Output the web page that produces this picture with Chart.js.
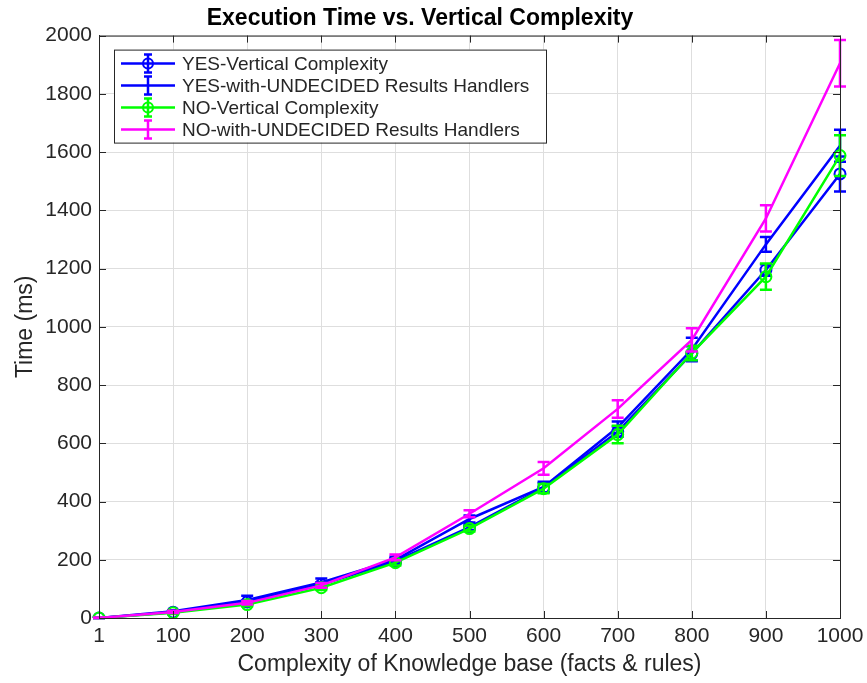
<!DOCTYPE html>
<html>
<head>
<meta charset="utf-8">
<script src="https://cdn.jsdelivr.net/npm/chart.js@4.4.1/dist/chart.umd.min.js"></script>
<style>
  html, body { margin: 0; padding: 0; background: #fff; }
  #wrap { width: 867px; height: 683px; }
</style>
</head>
<body>
<div id="wrap"><canvas id="myChart" width="867" height="683"></canvas></div>
<script>
// x categories (facts & rules)
const categories = ['1', '100', '200', '300', '400', '500', '600', '700', '800', '900', '1000'];

// mean execution times (ms)
const yesVertical   = [0, 20, 55, 115, 195, 312, 448, 640, 908, 1195, 1525];
const yesUndecided  = [0, 23, 62, 122, 200, 340, 450, 655, 922, 1283, 1622];
const noVertical    = [0, 18, 46, 104, 190, 307, 444, 630, 910, 1172, 1588];
const noUndecided   = [0, 21, 52, 112, 208, 358, 514, 718, 955, 1372, 1905];

// error bar half-lengths (ms)
const yesVerticalErr  = [2, 4, 6, 8, 10, 10, 16, 18, 25, 20, 60];
const yesUndecidedErr = [2, 4, 14, 14, 10, 12, 18, 20, 40, 25, 55];
const noVerticalErr   = [2, 4, 6, 8, 10, 10, 16, 30, 25, 45, 70];
const noUndecidedErr  = [2, 4, 6, 8, 10, 12, 22, 30, 40, 45, 80];

const seriesNames = [
  'YES-Vertical Complexity',
  'YES-with-UNDECIDED Results Handlers',
  'NO-Vertical Complexity',
  'NO-with-UNDECIDED Results Handlers'
];

const FONT = 'Liberation Sans, Arial, sans-serif';
const TEXT = '#262626';

function series(i, data, err, color, marker, order) {
  return {
    label: seriesNames[i],
    data: data,
    errors: err,
    borderColor: color,
    backgroundColor: 'rgba(0,0,0,0)',
    borderWidth: 2.5,
    pointStyle: 'circle',
    pointRadius: marker ? 5.5 : 0,
    pointBorderWidth: 2,
    pointBorderColor: color,
    pointBackgroundColor: 'rgba(0,0,0,0)',
    tension: 0,
    order: order,
    hasMarker: marker
  };
}

// error bars, drawn right after each dataset so stacking follows the series
const errorBars = {
  id: 'errorBars',
  afterDatasetDraw(chart, args) {
    const ds = chart.data.datasets[args.index];
    const y = chart.scales.y;
    const ctx = chart.ctx;
    ctx.save();
    ctx.strokeStyle = ds.borderColor;
    ctx.lineWidth = 2.5;
    args.meta.data.forEach((pt, i) => {
      const v = ds.data[i], e = ds.errors[i];
      const top = y.getPixelForValue(v + e);
      const bot = y.getPixelForValue(Math.max(v - e, 0));
      ctx.beginPath();
      ctx.moveTo(pt.x, top); ctx.lineTo(pt.x, bot);
      ctx.moveTo(pt.x - 6, top); ctx.lineTo(pt.x + 6, top);
      ctx.moveTo(pt.x - 6, bot); ctx.lineTo(pt.x + 6, bot);
      ctx.stroke();
    });
    ctx.restore();
  }
};

// box around the axes with inward ticks, plus the legend inside the plot
const frameAndLegend = {
  id: 'frameAndLegend',
  afterDraw(chart) {
    const ctx = chart.ctx;
    const a = chart.chartArea;
    const xs = chart.scales.x, ys = chart.scales.y;
    ctx.save();
    ctx.strokeStyle = TEXT;
    ctx.lineWidth = 1;
    ctx.strokeRect(a.left + 0.5, a.top + 0.5, a.right - a.left, a.bottom - a.top);
    ctx.beginPath();
    xs.ticks.forEach((t, i) => {
      const px = Math.round(xs.getPixelForTick(i)) + 0.5;
      ctx.moveTo(px, a.bottom); ctx.lineTo(px, a.bottom - 7);
      ctx.moveTo(px, a.top); ctx.lineTo(px, a.top + 7);
    });
    ys.ticks.forEach((t, i) => {
      const py = Math.round(ys.getPixelForTick(i)) + 0.5;
      ctx.moveTo(a.left, py); ctx.lineTo(a.left + 7, py);
      ctx.moveTo(a.right, py); ctx.lineTo(a.right - 7, py);
    });
    ctx.stroke();

    // legend
    const lx = a.left + 15, ly = a.top + 14, lw = 432, lh = 93;
    ctx.fillStyle = '#fff';
    ctx.fillRect(lx, ly, lw, lh);
    ctx.strokeStyle = TEXT;
    ctx.strokeRect(lx + 0.5, ly + 0.5, lw, lh);
    ctx.font = '19px ' + FONT;
    ctx.textBaseline = 'middle';
    chart.data.datasets.forEach((ds, i) => {
      const cy = ly + 14 + i * 22;
      ctx.strokeStyle = ds.borderColor;
      ctx.lineWidth = 2.5;
      ctx.beginPath();
      ctx.moveTo(lx + 7, cy); ctx.lineTo(lx + 61, cy);
      ctx.moveTo(lx + 34, cy - 9); ctx.lineTo(lx + 34, cy + 9);
      ctx.moveTo(lx + 30, cy - 9); ctx.lineTo(lx + 38, cy - 9);
      ctx.moveTo(lx + 30, cy + 9); ctx.lineTo(lx + 38, cy + 9);
      ctx.stroke();
      if (ds.hasMarker) {
        ctx.lineWidth = 2;
        ctx.beginPath();
        ctx.arc(lx + 34, cy, 5, 0, Math.PI * 2);
        ctx.stroke();
      }
      ctx.fillStyle = TEXT;
      ctx.fillText(ds.label, lx + 68, cy + 1);
    });
    ctx.restore();
  }
};

const ctx = document.getElementById('myChart').getContext('2d');
new Chart(ctx, {
  type: 'line',
  data: {
    labels: categories,
    datasets: [
      series(0, yesVertical, yesVerticalErr, '#0000ff', true, 3),
      series(1, yesUndecided, yesUndecidedErr, '#0000ff', false, 2),
      series(2, noVertical, noVerticalErr, '#00ff00', true, 1),
      series(3, noUndecided, noUndecidedErr, '#ff00ff', false, 0)
    ]
  },
  options: {
    responsive: false,
    animation: false,
    layout: { padding: { left: 0, right: 27, top: 0, bottom: 0 } },
    plugins: {
      legend: { display: false },
      tooltip: { enabled: false },
      title: {
        display: true,
        text: 'Execution Time vs. Vertical Complexity',
        color: '#000',
        font: { family: FONT, size: 23, weight: 'bold', lineHeight: 1.2 },
        padding: { top: 5, bottom: 3 }
      }
    },
    scales: {
      x: {
        offset: false,
        grid: { color: '#dedede', lineWidth: 1, drawTicks: false },
        border: { color: TEXT },
        ticks: { color: TEXT, font: { family: FONT, size: 21 }, padding: 6, maxRotation: 0, autoSkip: false },
        title: {
          display: true,
          text: 'Complexity of Knowledge base (facts & rules)',
          color: TEXT,
          font: { family: FONT, size: 23 },
          padding: { top: 0, bottom: 5 }
        },
        afterFit: s => { s.height = 65; s.paddingRight = 0; s.paddingLeft = 0; }
      },
      y: {
        min: 0,
        max: 2000,
        grid: { color: '#dedede', lineWidth: 1, drawTicks: false },
        border: { color: TEXT },
        ticks: {
          stepSize: 200,
          color: TEXT,
          font: { family: FONT, size: 21 },
          padding: 7,
          callback: v => String(v)
        },
        title: {
          display: true,
          text: 'Time (ms)',
          color: TEXT,
          font: { family: FONT, size: 23 },
          padding: { top: 12, bottom: 0 }
        },
        afterFit: s => { s.width = 99; }
      }
    }
  },
  plugins: [errorBars, frameAndLegend]
});
</script>
</body>
</html>
